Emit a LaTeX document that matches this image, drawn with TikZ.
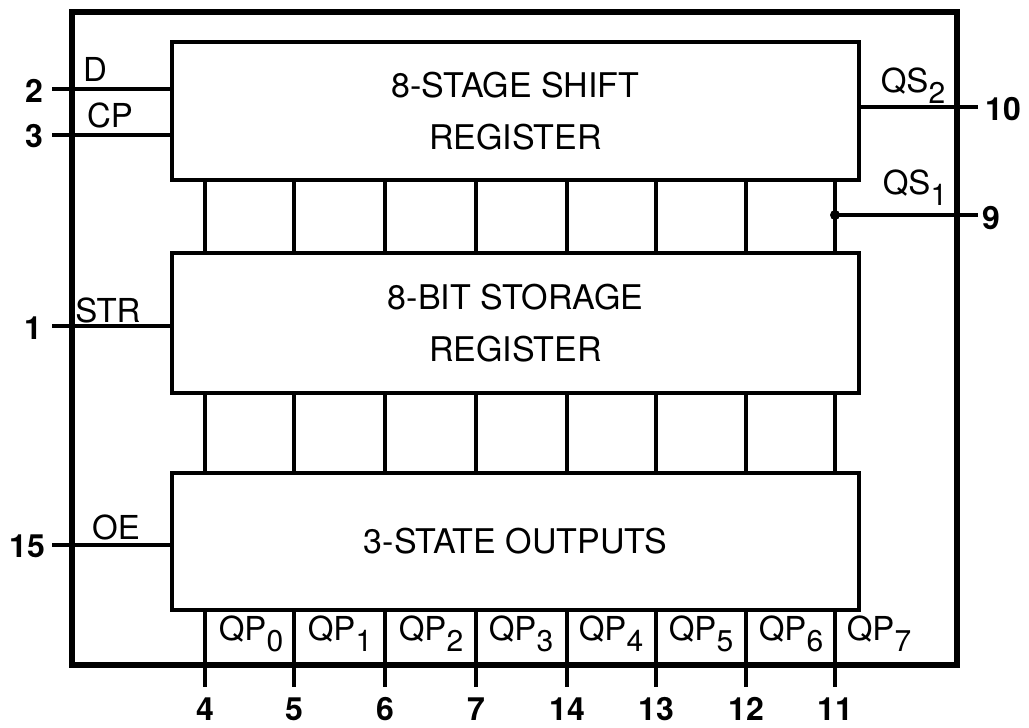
\documentclass[tikz,border=0pt]{standalone}
\usepackage{fontspec}
\setmainfont{TeX Gyre Heros}
\newcommand\subz[1]{\raisebox{-0.34em}{\fontsize{30}{32}\selectfont #1}}
\begin{document}
\begin{tikzpicture}[x=1pt,y=-1pt,
  blk/.style={draw, line width=3.4pt, minimum width=687pt, inner sep=0pt, align=center,
    font=\fontsize{34}{52}\selectfont},
  chipbox/.style={draw, line width=6pt, minimum width=885pt, minimum height=653pt, inner sep=0pt},
  wire/.style={line width=3.2pt},
  lbl/.style={inner sep=0pt, font=\fontsize{33}{36}\selectfont},
  pinnum/.style={inner sep=0pt, font=\fontsize{32}{36}\selectfont\bfseries}]
\useasboundingbox (0,0) rectangle (1029,728);
\node[chipbox] (chip) at (514.5,338.5) {};
\node[blk, minimum height=138pt] (shift) at (515.5,111) {8-STAGE SHIFT\\REGISTER};
\node[blk, minimum height=140pt] (stor) at (515.5,323) {8-BIT STORAGE\\REGISTER};
\node[blk, minimum height=137pt] (outs) at (515.5,541.5) {3-STATE OUTPUTS};
% column coordinates
\foreach \i/\x in {1/205,2/294,3/385,4/476,5/567,6/656,7/746,8/835}{
  \coordinate (c\i) at (\x,687);
}
\foreach \i in {1,...,8}{
  \draw[wire] (shift.south -| c\i) -- (stor.north -| c\i);
  \draw[wire] (stor.south -| c\i) -- (outs.north -| c\i);
  \draw[wire] (outs.south -| c\i) -- (c\i);
}
% left pins
\coordinate (p2) at (52,89);
\coordinate (p3) at (52,135);
\coordinate (p1) at (52,326);
\coordinate (p15) at (52,545);
\draw[wire] (p2) -- (p2 -| shift.west);
\draw[wire] (p3) -- (p3 -| shift.west);
\draw[wire] (p1) -- (p1 -| stor.west);
\draw[wire] (p15) -- (p15 -| outs.west);
% right pins
\coordinate (p10) at (978,107);
\coordinate (p9) at (978,215);
\draw[wire] (p10 -| shift.east) -- (p10);
\draw[wire] (p9 -| c8) -- (p9);
\fill (p9 -| c8) circle (5pt);
% labels
\node[lbl] (lD) at (95,69) {D};
\node[lbl] (lCP) at (110,115) {CP};
\node[lbl] (lSTR) at (108,310) {STR};
\node[lbl] (lOE) at (116,527) {OE};
\node[lbl] (lQS2) at (913,86) {QS\subz{2}};
\node[lbl] (lQS1) at (915,188) {QS\subz{1}};
\node[pinnum] (n2) at (34,91) {2};
\node[pinnum] (n3) at (34,136) {3};
\node[pinnum] (n1) at (33,328) {1};
\node[pinnum] (n15) at (27,546) {15};
\node[pinnum] (n10) at (1003,109) {10};
\node[pinnum] (n9) at (991,218) {9};
\foreach \i/\x/\n in {1/205/4,2/294/5,3/385/6,4/476/7,5/567/14,6/656/13,7/746/12,8/835/11}{
  \node[pinnum] (b\i) at (\x,709) {\n};
}
\foreach \i/\x in {0/251,1/340,2/431,3/521,4/611,5/701,6/791,7/879}{
  \node[lbl] (qp\i) at (\x,634) {QP\subz{\i}};
}
\end{tikzpicture}
\end{document}
